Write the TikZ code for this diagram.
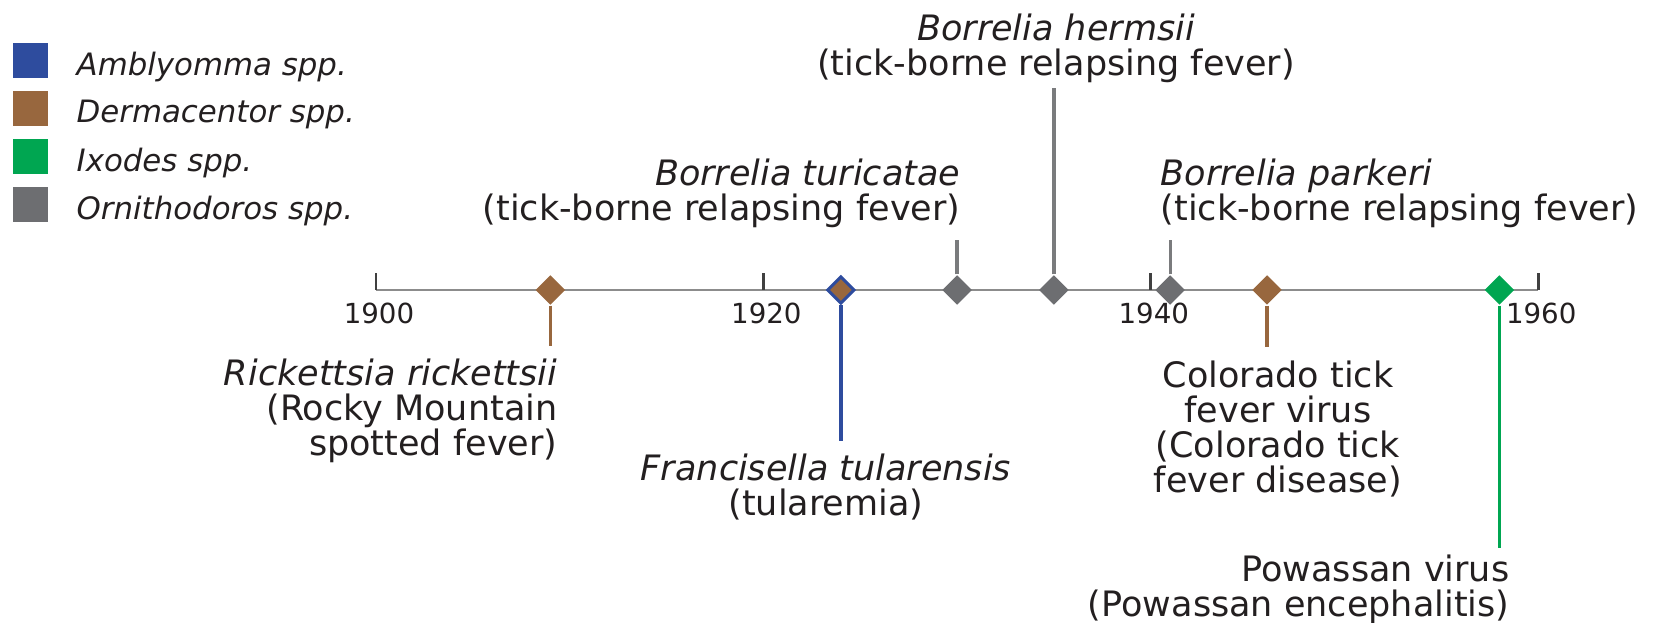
\documentclass[tikz,border=0pt]{standalone}
\usepackage{fontspec}
\setmainfont{DejaVu Sans}
\usetikzlibrary{shapes.geometric, positioning}

\definecolor{tickblue}{HTML}{2E4C9E}
\definecolor{tickbrown}{HTML}{98673E}
\definecolor{tickgreen}{HTML}{00A651}
\definecolor{tickgray}{HTML}{6D6E71}
\definecolor{stemgray}{HTML}{7A7B7D}
\definecolor{axisgray}{HTML}{8C8C8C}
\definecolor{inkblack}{HTML}{231F20}

\tikzset{
  label text/.style={font=\fontsize{10.5}{10.5}\selectfont, text=inkblack, inner sep=0pt},
  leg text/.style={font=\fontsize{9.25}{10}\selectfont, text=inkblack, inner sep=0pt},
  year text/.style={font=\fontsize{8.3}{9}\selectfont, text=inkblack, inner sep=0pt},
  event/.style={diamond, fill=#1, inner sep=0pt, minimum size=9pt},
  stem/.style={line width=1pt, draw=#1},
  legbox/.style={rectangle, fill=#1, inner sep=0pt, minimum size=10.5pt},
}

\begin{document}
\begin{tikzpicture}[x=0.3pt, y=-0.3pt]
    \useasboundingbox (0,0) rectangle (1657,623);
    % year -> x position on the axis
    \def\xpos#1{376+(#1-1900)*19.37}

    % Legend
    \foreach \i/\col/\gen in {0/tickblue/Amblyomma, 1/tickbrown/Dermacentor, 2/tickgreen/Ixodes, 3/tickgray/Ornithodoros} {
        \node[legbox=\col] (K\i) at (30.5,{60.5+48*\i}) {};
        \node[leg text, anchor=north west] (T\i) at (76,{51+48*\i}) {\textit{\gen\ spp.}};
    }

    % Axis with ticks
    \coordinate (A0) at ({\xpos{1900}},290);
    \coordinate (A1) at ({\xpos{1960}},290);
    \draw[axisgray, line width=0.8pt] (A0) -- (A1);
    \foreach \yr in {1900,1920,1940,1960} {
        \draw[darkgray, line width=0.8pt] ({\xpos{\yr}},290) -- ++(0,-17);
        \node[year text] (Y\yr) at ({\xpos{\yr}+3},313) {\yr};
    }

    % Events
    \foreach \name/\yr/\col in {RR/1909/tickbrown, BT/1930/tickgray, BH/1935/tickgray, BP/1941/tickgray, CT/1946/tickbrown, PV/1958/tickgreen} {
        \node[event=\col] (D\name) at ({\xpos{\yr}},290) {};
    }
    \node[event=tickbrown, draw=tickblue, line width=0.9pt, minimum size=8.2pt] (DFT) at ({\xpos{1924}},290) {};

    % Stem ends
    \coordinate (SRR) at ({\xpos{1909}},346);
    \coordinate (SFT) at ({\xpos{1924}},441);
    \coordinate (SBT) at ({\xpos{1930}},240);
    \coordinate (SBH) at ({\xpos{1935}},88);
    \coordinate (SBP) at ({\xpos{1941}},240);
    \coordinate (SCT) at ({\xpos{1946}},347);
    \coordinate (SPV) at ({\xpos{1958}},548);

    % Stems
    \draw[stem=tickbrown] (DRR) -- (SRR);
    \draw[stem=tickblue] (DFT) -- (SFT);
    \draw[stem=stemgray] (DBT) -- (SBT);
    \draw[stem=stemgray] (DBH) -- (SBH);
    \draw[stem=stemgray] (DBP) -- (SBP);
    \draw[stem=tickbrown] (DCT) -- (SCT);
    \draw[stem=tickgreen] (DPV) -- (SPV);

    % Labels above the axis
    \node[label text, anchor=north, align=center] (LBH) at (1056,13)
        {\textit{Borrelia hermsii}\\(tick-borne relapsing fever)};
    \node[label text, anchor=north east, align=right] (LBT) at (961,158)
        {\textit{Borrelia turicatae}\\(tick-borne relapsing fever)};
    \node[label text, anchor=north west, align=left] (LBP) at (1160,158)
        {\textit{Borrelia parkeri}\\(tick-borne relapsing fever)};

    % Labels below the axis
    \node[label text, anchor=north east, align=right] (LRR) at (558,358)
        {\textit{Rickettsia rickettsii}\\(Rocky Mountain\\spotted fever)};
    \node[label text, anchor=north, align=center] (LFT) at (826,453)
        {\textit{Francisella tularensis}\\(tularemia)};
    \node[label text, anchor=north, align=center] (LCT) at (1278,360)
        {Colorado tick\\fever virus\\(Colorado tick\\fever disease)};
    \node[label text, anchor=north east, align=right] (LPV) at (1510,554)
        {Powassan virus\\(Powassan encephalitis)};
\end{tikzpicture}
\end{document}
